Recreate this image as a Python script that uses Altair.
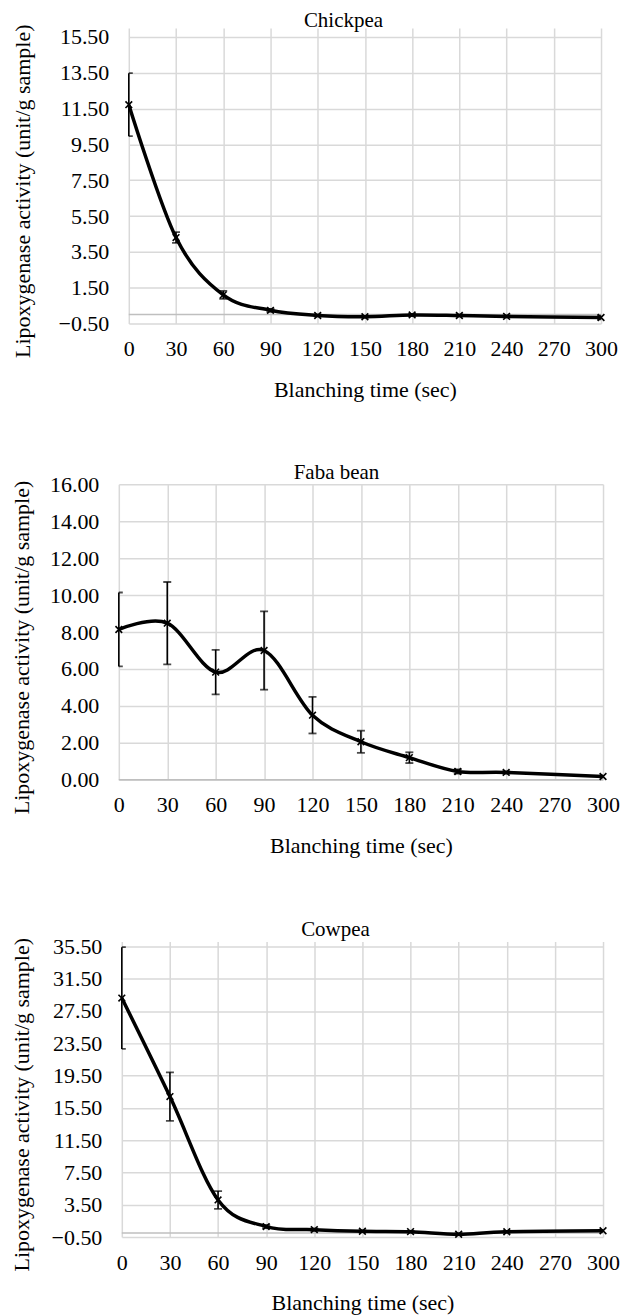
import altair as alt
import pandas as pd

# ---- data ----
times = [0, 30, 60, 90, 120, 150, 180, 210, 240, 300]
x_ticks = [0, 30, 60, 90, 120, 150, 180, 210, 240, 270, 300]

chickpea_mean = [11.72, 4.30, 1.10, 0.24, -0.05, -0.12, -0.02, -0.05, -0.10, -0.16]
chickpea_err = [1.76, 0.30, 0.22, 0.08, 0.05, 0.05, 0.06, 0.05, 0.05, 0.10]

faba_mean = [8.14, 8.48, 5.83, 7.00, 3.50, 2.06, 1.20, 0.45, 0.40, 0.18]
faba_err = [2.00, 2.23, 1.21, 2.12, 0.99, 0.60, 0.29, 0.12, 0.06, 0.05]

cowpea_mean = [29.10, 16.90, 4.10, 0.80, 0.42, 0.22, 0.17, -0.15, 0.16, 0.28]
cowpea_err = [6.30, 3.00, 1.10, 0.20, 0.15, 0.10, 0.10, 0.10, 0.10, 0.10]

chickpea_ticks = [-0.5, 1.5, 3.5, 5.5, 7.5, 9.5, 11.5, 13.5, 15.5]
faba_ticks = [0, 2, 4, 6, 8, 10, 12, 14, 16]
cowpea_ticks = [-0.5, 3.5, 7.5, 11.5, 15.5, 19.5, 23.5, 27.5, 31.5, 35.5]

FONT = "Liberation Serif"
Y_TITLE = "Lipoxygenase activity (unit/g sample)"
X_TITLE = "Blanching time (sec)"
PLOT_H = 296

panels = [
    # name, mean, err, ticks, domain, width, titleX, title x, title y, left spacer
    ("Chickpea", chickpea_mean, chickpea_err, chickpea_ticks, [-0.5, 16.0], 473, -106, 215, -1, 4),
    ("Faba bean", faba_mean, faba_err, faba_ticks, [0, 16], 485, -97, 218, -5, 1),
    ("Cowpea", cowpea_mean, cowpea_err, cowpea_ticks, [-0.5, 36.1], 482, -100, 214, -6, 1),
]

x_mark_shape = "M-1,-1L1,1M-1,1L1,-1"


def make_panel(name, mean, err, ticks, domain, width, title_x, head_x, head_y, spacer_w):
    df = pd.DataFrame({
        "t": times,
        "v": mean,
        "lo": [m - e for m, e in zip(mean, err)],
        "hi": [m + e for m, e in zip(mean, err)],
    })
    zero_df = pd.DataFrame({"z": [0.0]})
    head_df = pd.DataFrame({"label": [name]})

    xscale = alt.Scale(domain=[0, 300], nice=False, zero=False)
    yscale = alt.Scale(domain=domain, nice=False, zero=False)
    xaxis = alt.Axis(values=x_ticks, title=X_TITLE, grid=True, labelPadding=15,
                     titlePadding=20, labelFlush=False)
    yaxis = alt.Axis(values=ticks, format=".2f", title=Y_TITLE, grid=True,
                     labelPadding=20, titleX=title_x, titleY=PLOT_H / 2 + 15,
                     titleAlign="center", titleBaseline="middle", titleAngle=270)

    def X(field):
        return alt.X(field, type="quantitative", scale=xscale, axis=xaxis)

    def Y(field):
        return alt.Y(field, type="quantitative", scale=yscale, axis=yaxis)

    base = alt.Chart(df)

    zero_rule = alt.Chart(zero_df).mark_rule(color="#bfbfbf", strokeWidth=1.5).encode(
        y=Y("z"), x=alt.value(0), x2=alt.value(width)
    )
    bars = base.mark_rule(color="black", strokeWidth=1.6).encode(
        x=X("t"), y=Y("lo"), y2="hi"
    )
    cap_lo = base.mark_tick(color="black", orient="horizontal", size=8,
                            thickness=1.8, clip=True).encode(x=X("t"), y=Y("lo"))
    cap_hi = base.mark_tick(color="black", orient="horizontal", size=8,
                            thickness=1.8, clip=True).encode(x=X("t"), y=Y("hi"))
    line = base.mark_line(color="black", strokeWidth=3.5, interpolate="cardinal").encode(
        x=X("t"), y=Y("v")
    )
    pts = base.mark_point(shape=x_mark_shape, size=45, filled=False, color="black",
                          strokeWidth=1.6, opacity=1).encode(x=X("t"), y=Y("v"))
    head = alt.Chart(head_df).mark_text(
        font=FONT, fontSize=21, color="black", align="center", baseline="alphabetic"
    ).encode(text="label:N", x=alt.value(head_x), y=alt.value(head_y))

    panel = alt.layer(zero_rule, bars, cap_lo, cap_hi, line, pts, head).properties(
        width=width,
        height=PLOT_H,
    )
    spacer = alt.Chart(zero_df).mark_point(opacity=0).properties(
        width=spacer_w, height=PLOT_H
    )
    return alt.hconcat(spacer, panel, spacing=0)


charts = [make_panel(*p) for p in panels]

chart = alt.vconcat(*charts, spacing=62).properties(
    padding={"left": -4, "top": 1, "right": 0, "bottom": 0},
    background="white",
).configure_view(stroke=None).configure_axis(
    labelFont=FONT, labelFontSize=22, labelColor="black",
    titleFont=FONT, titleFontSize=22, titleFontWeight="normal", titleColor="black",
    domain=False, ticks=False, gridColor="#d9d9d9", gridWidth=1.5,
)

chart.save("out.html", embed_options={"renderer": "svg", "actions": False})
